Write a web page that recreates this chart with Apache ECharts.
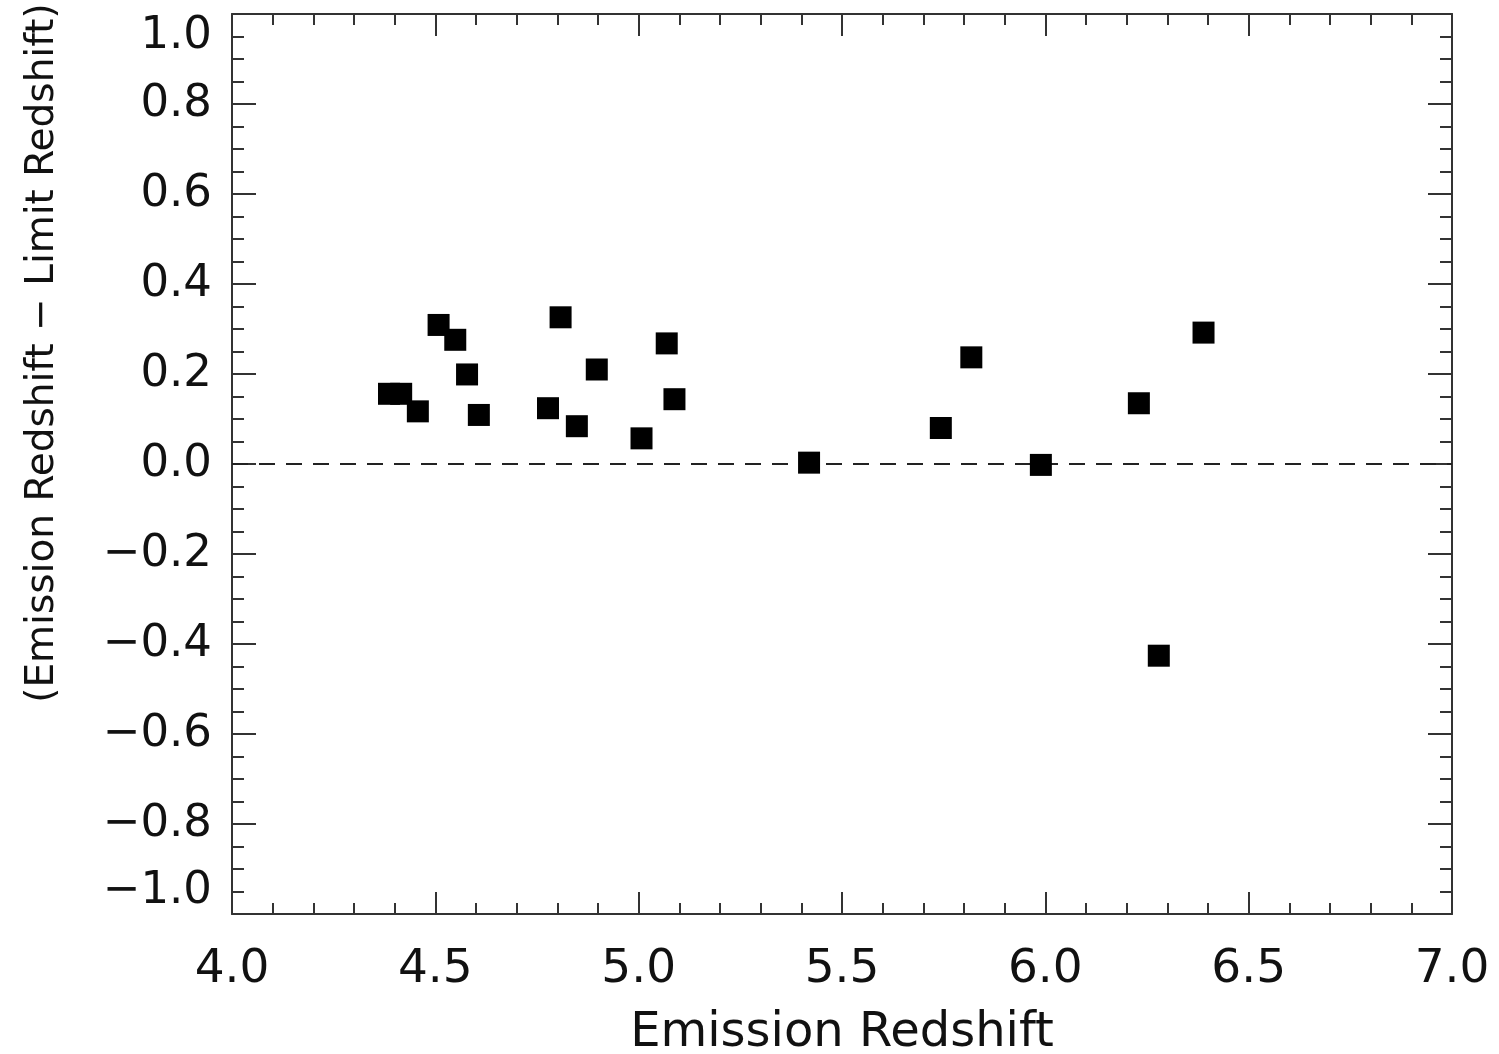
<!DOCTYPE html>
<html>
<head>
<meta charset="utf-8">
<script src="https://cdn.jsdelivr.net/npm/echarts@6/dist/echarts.min.js"></script>
<style>
  html, body { margin: 0; padding: 0; background: #fff; }
  #chart { width: 1499px; height: 1054px; }
</style>
</head>
<body>
<div id="chart"></div>
<script>
// Emission redshift of each quasar
const emissionZ = [
  4.386, 4.416, 4.457, 4.508, 4.549, 4.578, 4.607, 4.777, 4.808, 4.848, 4.897,
  5.007, 5.069, 5.088, 5.419, 5.743, 5.818, 5.989, 6.230, 6.279, 6.389
];
// Emission redshift minus limit redshift
const deltaZ = [
  0.156, 0.156, 0.117, 0.309, 0.276, 0.199, 0.109, 0.124, 0.326, 0.084, 0.210,
  0.057, 0.268, 0.144, 0.003, 0.080, 0.237, -0.002, 0.135, -0.426, 0.292
];
// Zero reference line endpoints
const zeroLineX = [4.0, 7.0];
const zeroLineY = [0.0, 0.0];

const xTitle = 'Emission Redshift';
const yTitle = '(Emission Redshift \u2212 Limit Redshift)';

const FONT = 'DejaVu Sans';
const INK = '#111';
const AXIS = '#333';

const fmt = v => (v < 0 ? '\u2212' : '') + Math.abs(v).toFixed(1);

const points = emissionZ.map((x, i) => [x, deltaZ[i]]);
const zeroLine = zeroLineX.map((x, i) => [x, zeroLineY[i]]);

const baseAxisLine = { show: true, onZero: false, lineStyle: { color: AXIS, width: 2 } };

const chart = echarts.init(document.getElementById('chart'), null, { renderer: 'canvas' });
chart.setOption({
  animation: false,
  backgroundColor: '#fff',
  grid: { left: 232, right: 47, top: 14, bottom: 140, containLabel: false, outerBoundsMode: 'none' },
  xAxis: [
    {
      type: 'value', min: 4, max: 7, interval: 0.5, position: 'bottom',
      name: xTitle, nameLocation: 'middle', nameGap: 96,
      nameTextStyle: { fontFamily: FONT, fontSize: 48, color: INK },
      axisLine: baseAxisLine,
      axisTick: { show: true, inside: true, length: 22, lineStyle: { color: AXIS, width: 2 } },
      minorTick: { show: true, splitNumber: 5, length: 11, lineStyle: { color: AXIS, width: 2 } },
      splitLine: { show: false },
      axisLabel: { margin: 32, fontFamily: FONT, fontSize: 47, color: INK, formatter: fmt }
    },
    {
      type: 'value', min: 4, max: 7, interval: 0.5, position: 'top',
      axisLine: baseAxisLine,
      axisTick: { show: true, inside: true, length: 22, lineStyle: { color: AXIS, width: 2 } },
      minorTick: { show: true, splitNumber: 5, length: 11, lineStyle: { color: AXIS, width: 2 } },
      splitLine: { show: false },
      axisLabel: { show: false }
    }
  ],
  yAxis: [
    {
      type: 'value', min: -1, max: 1, interval: 0.2, position: 'left',
      name: yTitle, nameLocation: 'middle', nameGap: 170, nameRotate: 90,
      nameTextStyle: { fontFamily: FONT, fontSize: 39, color: INK, padding: [0, 0, 0, 222] },
      axisLine: baseAxisLine,
      axisTick: { show: true, inside: true, length: 24, lineStyle: { color: AXIS, width: 2 } },
      minorTick: { show: true, splitNumber: 4, length: 12, lineStyle: { color: AXIS, width: 2 } },
      splitLine: { show: false },
      axisLabel: {
        margin: 20, fontFamily: FONT, fontSize: 45, color: INK, formatter: fmt,
        verticalAlignMinLabel: 'bottom', verticalAlignMaxLabel: 'top'
      }
    },
    {
      type: 'value', min: -1, max: 1, interval: 0.2, position: 'right',
      axisLine: baseAxisLine,
      axisTick: { show: true, inside: true, length: 24, lineStyle: { color: AXIS, width: 2 } },
      minorTick: { show: true, splitNumber: 4, length: 12, lineStyle: { color: AXIS, width: 2 } },
      splitLine: { show: false },
      axisLabel: { show: false }
    }
  ],
  series: [
    {
      type: 'line', data: zeroLine, xAxisIndex: 0, yAxisIndex: 0,
      symbol: 'none', silent: true, z: 1,
      lineStyle: { color: '#222', width: 2, type: [16, 11] }
    },
    {
      type: 'scatter', data: points, xAxisIndex: 0, yAxisIndex: 0,
      symbol: 'rect', symbolSize: 22, z: 3,
      itemStyle: { color: '#000', opacity: 1 }
    }
  ]
});
</script>
</body>
</html>
